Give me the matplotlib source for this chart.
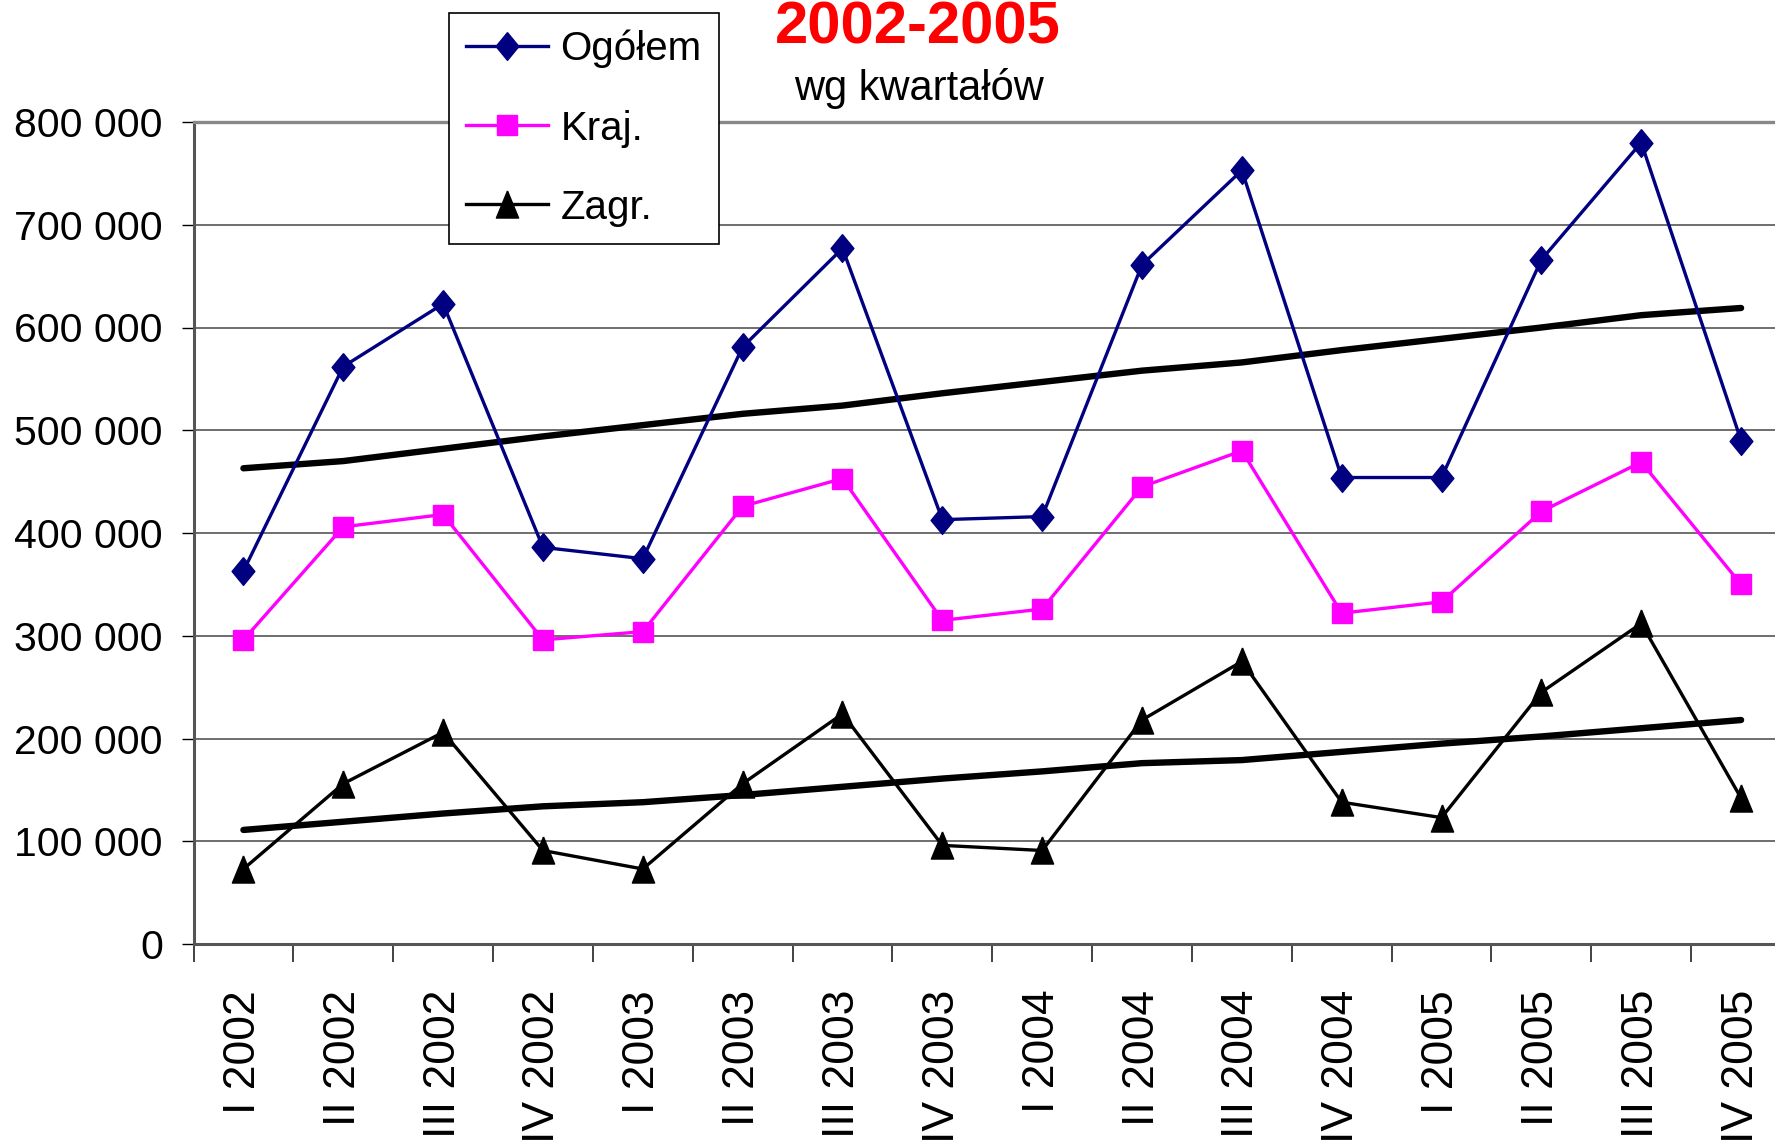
import matplotlib
matplotlib.use('Agg')
import matplotlib.pyplot as plt
from matplotlib.ticker import FixedLocator, FuncFormatter

# dane
kwartaly = ['I 2002', 'II 2002', 'III 2002', 'IV 2002',
            'I 2003', 'II 2003', 'III 2003', 'IV 2003',
            'I 2004', 'II 2004', 'III 2004', 'IV 2004',
            'I 2005', 'II 2005', 'III 2005', 'IV 2005']

ogolem = [363000, 562000, 623000, 386000, 375000, 581000, 677000, 413000,
          416000, 661000, 753000, 454000, 454000, 666000, 780000, 490000]
kraj = [296000, 406000, 418000, 296000, 304000, 426000, 453000, 315000,
        326000, 445000, 480000, 322000, 333000, 421000, 469000, 350000]
zagr = [73000, 156000, 206000, 91000, 73000, 156000, 224000, 96000,
        91000, 218000, 275000, 138000, 123000, 245000, 312000, 142000]

# linie trendu
trend_ogolem = [463000, 470000, 482000, 494000, 505000, 516000, 524000, 536000,
                547000, 558000, 566000, 578000, 589000, 600000, 612000, 619000]
trend_zagr = [111000, 119000, 127000, 134000, 138000, 145000, 153000, 161000,
              168000, 176000, 179000, 187000, 195000, 202000, 210000, 218000]

y_ticks = [0, 100000, 200000, 300000, 400000, 500000, 600000, 700000, 800000]

plt.rcParams['font.family'] = ['Liberation Sans', 'DejaVu Sans']

fig = plt.figure(figsize=(17.75, 11.46), dpi=100)
W, H = 1775, 1146
ax = fig.add_axes([193.5 / W, (H - 944) / H, (1791 - 193.5) / W, (944 - 122) / H])

x = list(range(len(kwartaly)))

# ksztalty znacznikow (romb i trojkat jak w Excelu)
romb = [(0, 1), (0.82, 0), (0, -1), (-0.82, 0), (0, 1)]
trojkat = [(0, 1), (0.82, -1), (-0.82, -1), (0, 1)]

ax.plot(x, trend_ogolem, color='black', lw=4.6, solid_capstyle='round', zorder=3, label='_nolegend_')
ax.plot(x, trend_zagr, color='black', lw=4.6, solid_capstyle='round', zorder=3, label='_nolegend_')

ax.plot(x, ogolem, color='#000080', lw=2.4, marker=romb, ms=20, mec='#000080', mfc='#000080',
        label='Ogółem', zorder=4)
ax.plot(x, kraj, color='#FF00FF', lw=2.4, marker='s', ms=14.5, mec='#FF00FF', mfc='#FF00FF',
        label='Kraj.', zorder=4)
ax.plot(x, zagr, color='black', lw=2.4, marker=trojkat, ms=19.5, mec='black', mfc='black',
        label='Zagr.', zorder=4)

ax.set_xlim(-0.5, len(kwartaly) - 0.5)
ax.set_ylim(0, 800000)

# os Y
ax.yaxis.set_major_locator(FixedLocator(y_ticks))
ax.yaxis.set_major_formatter(FuncFormatter(lambda v, p: '{:,.0f}'.format(v).replace(',', ' ')))
ax.tick_params(axis='y', labelsize=29.5, length=9, width=1, pad=13, color='black')
ax.grid(axis='y', color='#555555', lw=1.2, zorder=1)

# os X - kreski miedzy kategoriami
ax.set_xticks(x)
ax.set_xticklabels(kwartaly, rotation=90, va='top', ha='center')
ax.tick_params(axis='x', which='major', labelsize=32, length=0, pad=33)
ax.xaxis.set_minor_locator(FixedLocator([i - 0.5 for i in range(len(kwartaly) + 1)]))
ax.tick_params(axis='x', which='minor', length=13, width=1.2, color='#222222')

for s in ['left', 'bottom']:
    ax.spines[s].set_color('#555555')
    ax.spines[s].set_linewidth(2.2)
ax.spines['top'].set_color('#888888')
ax.spines['top'].set_linewidth(2.4)
ax.spines['right'].set_visible(False)

# tytul
fig.text(918 / W, 1 - 43 / H, '2002-2005', color='red', fontsize=43, fontweight='bold',
         ha='center', va='baseline')
fig.text(919 / W, 1 - 100 / H, 'wg kwartałów', color='black', fontsize=30,
         ha='center', va='baseline')

leg = ax.legend(loc='upper left', bbox_to_anchor=(449 / W, 1 - 13 / H), bbox_transform=fig.transFigure,
                borderaxespad=0, fontsize=29, frameon=True, fancybox=False, edgecolor='black',
                framealpha=1, handlelength=2.05, handletextpad=0.3, labelspacing=1.02,
                borderpad=0.42, markerscale=1.0)
leg.get_frame().set_linewidth(1.2)
leg.set_zorder(10)

plt.savefig('out.png', dpi=100)
